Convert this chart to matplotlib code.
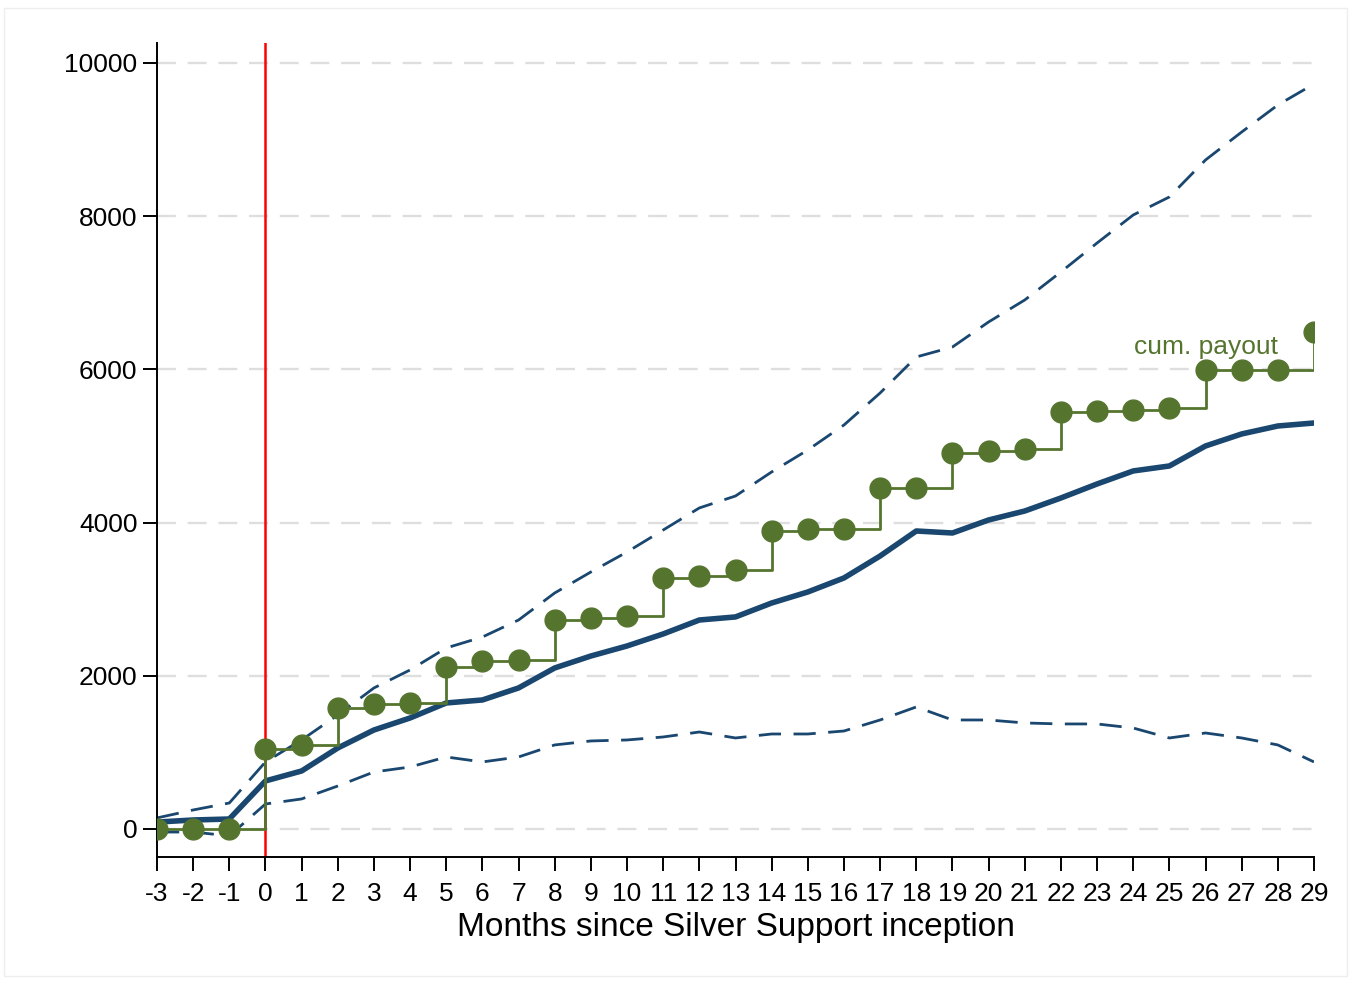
import matplotlib
matplotlib.use("Agg")
import matplotlib.pyplot as plt
import numpy as np

plt.rcParams['font.family'] = ['Liberation Sans', 'DejaVu Sans']

months = list(range(-3, 30))

# average cumulative spending and its 95% band
mean_spend = [90, 117, 130, 627, 757, 1057, 1292, 1449, 1645, 1684, 1841, 2102,
              2258, 2389, 2546, 2728, 2768, 2950, 3094, 3277, 3564, 3890, 3864,
              4034, 4151, 4321, 4504, 4674, 4739, 5000, 5157, 5261, 5300]
upper_ci = [144, 248, 339, 875, 1162, 1488, 1841, 2076, 2363, 2506, 2728, 3081,
            3355, 3616, 3903, 4191, 4347, 4661, 4948, 5274, 5692, 6162, 6292,
            6619, 6906, 7272, 7650, 8016, 8251, 8734, 9099, 9452, 9726]
lower_ci = [-40, -40, -90, 326, 392, 561, 744, 809, 940, 875, 940, 1097,
            1149, 1162, 1201, 1266, 1188, 1240, 1240, 1279, 1423, 1593, 1423,
            1423, 1384, 1371, 1371, 1318, 1188, 1253, 1188, 1097, 875]

# cumulative Silver Support payout
cum_payout = [0, 0, 0, 1044, 1097, 1580, 1632, 1645, 2115, 2193, 2206, 2728,
              2755, 2780, 3277, 3303, 3381, 3890, 3916, 3916, 4452, 4452, 4909,
              4935, 4961, 5444, 5457, 5470, 5496, 5992, 5992, 5992, 6488]

navy = '#1a476f'
green = '#55752f'

fig = plt.figure(figsize=(13.51, 9.81), dpi=100)
ax = fig.add_axes([157 / 1351, 124 / 981, 1157 / 1351, 814 / 981])

# light frame round the whole figure
fig.patches.append(plt.Rectangle((4 / 1351, 5 / 981), 1343 / 1351, 968 / 981,
                                 transform=fig.transFigure, fill=False,
                                 edgecolor='#eeeeee', linewidth=1))

for yv in range(0, 10001, 2000):
    ax.axhline(yv, color='#dedede', linewidth=1.7, dashes=(8, 5), zorder=0)

ax.axvline(0, color='#ff0000', linewidth=1.8, zorder=1)

ax.plot(months, upper_ci, color=navy, linewidth=2.0, dashes=(8, 4.5), zorder=2)
ax.plot(months, lower_ci, color=navy, linewidth=2.0, dashes=(8, 4.5), zorder=2)
ax.plot(months, mean_spend, color=navy, linewidth=4.0, zorder=3)

ax.step(months, cum_payout, where='post', color=green, linewidth=2.0, zorder=4)
ax.plot(months, cum_payout, 'o', color=green, markersize=15, zorder=5)
ax.text(28, 6290, 'cum. payout', color=green, fontsize=19, ha='right', va='center')

ax.set_xlim(-3, 29)
ax.set_ylim(-366, 10261)
ax.set_xticks(months)
ax.set_xticklabels([str(m) for m in months])
ax.set_yticks(range(0, 10001, 2000))
ax.tick_params(axis='both', direction='out', length=10, width=1.4,
               labelsize=19, colors='black')
ax.tick_params(axis='x', pad=8)
ax.tick_params(axis='y', pad=4)
ax.spines['top'].set_visible(False)
ax.spines['right'].set_visible(False)
ax.spines['left'].set_linewidth(1.4)
ax.spines['bottom'].set_linewidth(1.4)
ax.set_xlabel('Months since Silver Support inception', fontsize=24, labelpad=4)

fig.savefig('out.png', dpi=100)
